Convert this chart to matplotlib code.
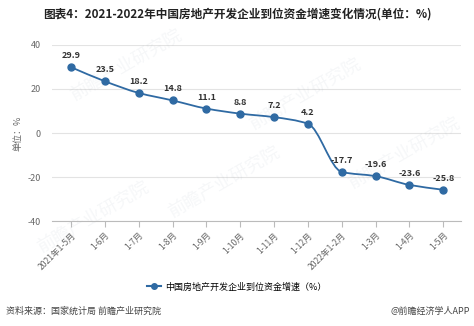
import numpy as np
import matplotlib
matplotlib.use("Agg")
import matplotlib.pyplot as plt
from matplotlib.path import Path
from matplotlib.patches import PathPatch
from matplotlib.lines import Line2D

plt.rcParams['font.family'] = ['Noto Sans CJK SC', 'DejaVu Sans']

categories = ["2021年1-5月", "1-6月", "1-7月", "1-8月", "1-9月", "1-10月",
              "1-11月", "1-12月", "2022年1-2月", "1-3月", "1-4月", "1-5月"]
growth = [29.9, 23.5, 18.2, 14.8, 11.1, 8.8, 7.2, 4.2, -17.7, -19.6, -23.6, -25.8]
y_ticks = [-40, -20, 0, 20, 40]

title = "图表4：2021-2022年中国房地产开发企业到位资金增速变化情况(单位：%)"
series_name = "中国房地产开发企业到位资金增速（%）"
source = "资料来源：国家统计局 前瞻产业研究院"
credit = "@前瞻经济学人APP"

line_color = "#2f6aa3"
grid_color = "#e3e3e3"
text_gray = "#666666"

fig = plt.figure(figsize=(4.74, 3.26), dpi=100)
ax = fig.add_axes([0.110, 0.322, 0.863, 0.540])

x = np.arange(len(categories))
y = np.array(growth, dtype=float)


def monotone_path(xs, ys):
    # Fritsch-Carlson tangents turned into cubic Bezier segments
    n = len(xs)
    d = np.diff(ys) / np.diff(xs)
    m = np.zeros(n)
    m[0], m[-1] = d[0], d[-1]
    for i in range(1, n - 1):
        if d[i - 1] * d[i] <= 0:
            m[i] = 0.0
        else:
            m[i] = 2.0 / (1.0 / d[i - 1] + 1.0 / d[i])
    verts = [(xs[0], ys[0])]
    codes = [Path.MOVETO]
    for i in range(n - 1):
        h = xs[i + 1] - xs[i]
        verts += [(xs[i] + h / 3, ys[i] + m[i] * h / 3),
                  (xs[i + 1] - h / 3, ys[i + 1] - m[i + 1] * h / 3),
                  (xs[i + 1], ys[i + 1])]
        codes += [Path.CURVE4] * 3
    return Path(verts, codes)


ax.add_patch(PathPatch(monotone_path(x, y), facecolor="none",
                       edgecolor=line_color, linewidth=1.3, zorder=3))
ax.plot(x, y, linestyle="none", marker="o", markersize=5,
        color=line_color, zorder=4)

for xi, yi in zip(x, y):
    ax.annotate(f"{yi:.1f}", (xi, yi), xytext=(0, 5), textcoords="offset points",
                ha="center", va="bottom", fontsize=6.5, fontweight="bold",
                color="#333333", zorder=5)

ax.set_xlim(-0.56, 11.53)
ax.set_ylim(-40, 40)
ax.set_yticks(y_ticks)
ax.set_yticklabels([str(v) for v in y_ticks], fontsize=6.5, color=text_gray)
ax.yaxis.grid(True, color=grid_color, linewidth=0.8)
ax.set_axisbelow(True)
ax.tick_params(axis="y", length=0, pad=8)

ax.set_xticks(x)
ax.set_xticklabels(categories, rotation=45, ha="right", rotation_mode="anchor",
                   fontsize=6.2, color=text_gray)
ax.tick_params(axis="x", length=4, color="#bbbbbb", pad=3)

for side in ("top", "right", "left"):
    ax.spines[side].set_visible(False)
ax.spines["bottom"].set_color("#bbbbbb")
ax.spines["bottom"].set_linewidth(0.8)

ax.set_ylabel("单位：%", fontsize=6.5, color=text_gray)
ax.yaxis.set_label_coords(-0.073, 0.5)

# faint watermark
for wx, wy in [(0.18, 0.88), (0.42, 0.22), (0.62, 0.72), (0.86, 0.38), (0.10, 0.02)]:
    ax.text(wx, wy, "前瞻产业研究院", transform=ax.transAxes, fontsize=13,
            color="#8899aa", alpha=0.08, rotation=30, ha="center", va="center",
            zorder=1)

fig.text(0.5, 0.957, title, ha="center", va="center", fontsize=8.4,
         fontweight="bold", color="#222222")

handle = Line2D([], [], color=line_color, marker="o", markersize=4, linewidth=1.5)
fig.legend([handle], [series_name], loc="center", bbox_to_anchor=(0.5, 0.12),
           frameon=False, fontsize=6.5, handlelength=1.5, handletextpad=0.5)

fig.text(0.012, 0.045, source, ha="left", va="center", fontsize=6.5, color="#444444")
fig.text(0.992, 0.045, credit, ha="right", va="center", fontsize=6.5, color="#444444")

fig.savefig("out.png", dpi=100)
